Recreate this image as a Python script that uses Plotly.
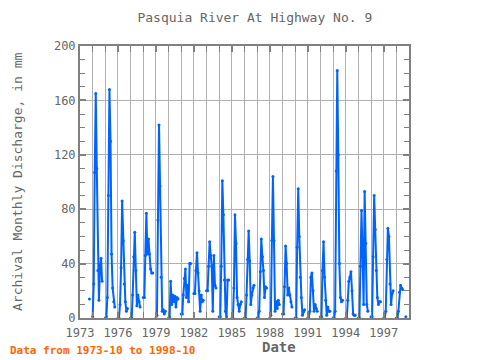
import plotly.graph_objects as go

# Monthly values (mm), Jan..Oct of each year; Nov/Dec not recorded
oct_1973 = [14]
y1974 = [1, 25, 107, 165, 110, 35, 13, 37, 44, 27]
y1975 = [0, 1, 15, 90, 168, 130, 47, 22, 12, 8]
y1976 = [0, 0, 10, 37, 86, 57, 25, 12, 5, 7]
y1977 = [0, 0, 17, 45, 63, 35, 9, 17, 12, 8]
y1978 = [15, 15, 46, 77, 47, 58, 47, 36, 33, 33]
y1979 = [0, 2, 72, 142, 97, 30, 5, 6, 3, 5]
y1980 = [0, 1, 27, 10, 17, 12, 16, 8, 15, 14]
y1981 = [3, 3, 17, 29, 36, 15, 24, 12, 40, 40]
y1982 = [18, 18, 35, 48, 33, 20, 5, 17, 12, 13]
y1983 = [20, 20, 38, 56, 46, 38, 5, 46, 24, 22]
y1984 = [1, 1, 38, 101, 76, 28, 5, 1, 28, 28]
y1985 = [0, 0, 22, 76, 55, 15, 10, 5, 10, 12]
y1986 = [0, 0, 17, 43, 64, 42, 10, 17, 22, 24]
y1987 = [0, 0, 5, 34, 58, 45, 35, 15, 23, 22]
y1988 = [0, 2, 57, 104, 57, 5, 12, 7, 13, 10]
y1989 = [3, 3, 23, 53, 40, 17, 22, 17, 12, 8]
y1990 = [0, 0, 52, 95, 60, 30, 15, 2, 5, 6]
y1991 = [0, 0, 5, 30, 33, 20, 5, 10, 7, 5]
y1992 = [1, 1, 35, 56, 30, 13, 2, 8, 5, 5]
y1993 = [0, 0, 5, 108, 182, 120, 40, 15, 12, 13]
y1994 = [0, 0, 13, 27, 30, 34, 20, 3, 2, 2]
y1995 = [0, 0, 38, 79, 47, 10, 93, 55, 10, 5]
y1996 = [1, 1, 45, 90, 65, 35, 15, 10, 12, 12]
y1997 = [0, 0, 5, 43, 66, 60, 25, 10, 18, 20]
y1998 = [0, 0, 5, 19, 24, 22, 21, None, None, 1]

years = list(range(1974, 1999))
year_values = [y1974, y1975, y1976, y1977, y1978, y1979, y1980, y1981, y1982,
               y1983, y1984, y1985, y1986, y1987, y1988, y1989, y1990, y1991,
               y1992, y1993, y1994, y1995, y1996, y1997, y1998]

dates = ["1973-10-01", "1973-11-01", "1973-12-01"]
vals = [oct_1973[0], None, None]
for yr, vs in zip(years, year_values):
    for m in range(1, 13):
        if yr == 1998 and m > 10:
            break
        dates.append(f"{yr}-{m:02d}-01")
        vals.append(vs[m - 1] if m <= 10 else None)

grey = "#808080"
txt = "#666666"
font_family = "DejaVu Sans Mono, Liberation Mono, monospace"

fig = go.Figure()
fig.add_trace(go.Scatter(
    x=dates, y=vals, mode="lines+markers",
    line=dict(color="#0063ff", width=2),
    marker=dict(color="#0063ff", size=3, symbol="circle"),
    connectgaps=False, showlegend=False,
))

fig.update_layout(
    width=472, height=352,
    margin=dict(l=72, r=71, t=38, b=42, autoexpand=False),
    paper_bgcolor="white", plot_bgcolor="white",
    font=dict(family=font_family, color=txt, size=12),
    title=dict(text="Pasquia River At Highway No. 9", x=0.523, xanchor="center",
               y=0.974, yanchor="middle",
               font=dict(family=font_family, size=13, color=txt)),
    xaxis=dict(
        type="date", range=["1973-01-01", "1999-01-01"],
        tick0="1973-01-01", dtick="M36", tickformat="%Y",
        ticks="inside", ticklen=6, tickwidth=2, tickcolor=grey,
        showgrid=True, gridcolor="#b0b0b0", gridwidth=1,
        minor=dict(dtick="M12", tick0="1973-01-01", ticks="inside", ticklen=6,
                   tickwidth=1, tickcolor=grey, showgrid=True,
                   gridcolor="#b0b0b0", gridwidth=1),
        showline=True, linecolor=grey, linewidth=2, mirror="allticks",
        ticklabelstandoff=3,
        tickfont=dict(size=12, color=txt),
        zeroline=False, automargin=False,
    ),
    yaxis=dict(
        range=[0, 200], dtick=40, tick0=0,
        ticks="inside", ticklen=6, tickwidth=2, tickcolor=grey,
        showgrid=True, gridcolor="#b0b0b0", gridwidth=1,
        minor=dict(dtick=10, ticks="inside", ticklen=5, tickwidth=1,
                   tickcolor=grey, showgrid=False),
        showline=True, linecolor=grey, linewidth=2, mirror="allticks",
        tickfont=dict(size=12, color=txt),
        zeroline=False, automargin=False,
    ),
    annotations=[
        dict(text="Archival Monthly Discharge, in mm", xref="paper", yref="paper",
             x=-0.1915, y=0.5, xanchor="center", yanchor="middle", textangle=-90,
             showarrow=False, font=dict(family=font_family, size=13, color=txt)),
        dict(text="<b>Date</b>", xref="paper", yref="paper",
             x=0.605, y=-0.105, xanchor="center", yanchor="middle",
             showarrow=False, font=dict(family=font_family, size=14, color=txt)),
        dict(text="<b>Data from 1973-10 to 1998-10</b>", xref="paper", yref="paper",
             x=-0.219, y=-0.12, xanchor="left", yanchor="middle", showarrow=False,
             font=dict(family=font_family, size=11, color="#ff6600")),
    ],
)

fig.write_html("out.html")
